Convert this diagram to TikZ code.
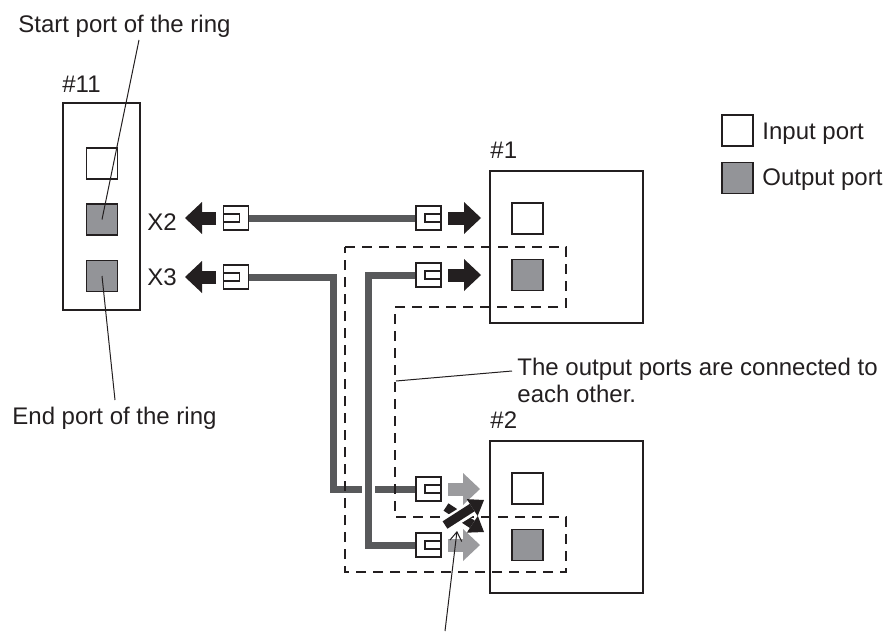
\documentclass[tikz,border=0pt]{standalone}
\usepackage{fontspec}
\setmainfont{Liberation Sans}
\usetikzlibrary{arrows.meta,backgrounds}
\definecolor{inkc}{RGB}{35,31,32}
\definecolor{portgray}{RGB}{147,148,152}
\definecolor{arrowgray}{RGB}{155,155,158}
\definecolor{cablegray}{RGB}{88,89,91}
\begin{document}
\begin{tikzpicture}[x=0.5pt,y=-0.5pt,
  every node/.style={font=\fontsize{12}{14}\selectfont, text=inkc},
  lbl/.style={anchor=base west, inner sep=0pt},
  devbox/.style={draw=inkc, line width=0.6pt, inner sep=0pt, outer sep=0pt},
  port/.style={draw=inkc, line width=0.6pt, minimum size=15.5pt, inner sep=0pt, outer sep=0pt},
  inport/.style={port, fill=white},
  outport/.style={port, fill=portgray},
  plug/.style={draw=inkc, fill=white, line width=0.6pt, minimum width=12.5pt, minimum height=12pt, inner sep=0pt, outer sep=0pt},
  plugin/.style={draw=inkc, fill=white, line width=0.6pt, minimum width=8pt, minimum height=4pt, inner sep=0pt, outer sep=0pt},
  cable/.style={draw=cablegray, line width=3.5pt, line join=miter},
  cableedge/.style={draw=white, line width=6.5pt, line join=miter},
  bigarrow/.style={line width=6.5pt, -{Triangle[width=16pt,length=8.5pt,line width=0pt]}},
  xarrow/.style={draw=inkc, line width=4.4pt, -{Triangle[width=10pt,length=7pt,line width=0pt]}},
  ptr/.style={draw=inkc, line width=0.5pt},
  dashline/.style={draw=inkc, line width=0.65pt, dash pattern=on 5pt off 3.5pt}]
\useasboundingbox (0,0) rectangle (886,631);

% device boxes
\node[devbox, minimum width=38.5pt, minimum height=103.5pt] (d11) at (101.5,206.5) {};
\node[devbox, minimum width=76.5pt, minimum height=76pt] (d1) at (566.5,247) {};
\node[devbox, minimum width=76.5pt, minimum height=76pt] (d2) at (566.5,517) {};

% ports
\node[inport] (i11) at (102,163.5) {};
\node[outport] (o11a) at (102,219.5) {};
\node[outport] (o11b) at (102,276) {};
\node[inport] (i1) at (527.5,218.5) {};
\node[outport] (o1) at (527.5,275) {};
\node[inport] (i2) at (527.5,488.5) {};
\node[outport] (o2) at (527.5,545) {};

% legend
\node[inport] (li) at (737.5,130.5) {};
\node[outport] (lo) at (737.5,178) {};
\node[lbl] (lit) at (762,139) {Input port};
\node[lbl] (lot) at (762,185) {Output port};

% labels
\node[lbl] (t11) at (62,92) {\#11};
\node[lbl] (t1) at (490,158) {\#1};
\node[lbl] (t2) at (490,428) {\#2};
\node[lbl] (tx2) at (147,230) {X2};
\node[lbl] (tx3) at (147,285) {X3};
\node[lbl] (tstart) at (18,33) {Start port of the ring};
\node[lbl] (tend) at (12,424) {End port of the ring};
\node[lbl] (tout1) at (517,375) {The output ports are connected to};
\node[lbl] (tout2) at (517,402) {each other.};

% plugs
\node[plug] (pl2) at (236,218) {};
\node[plugin, anchor=west] (pl2i) at (pl2.west) {};
\node[plug] (pl3) at (236,277) {};
\node[plugin, anchor=west] (pl3i) at (pl3.west) {};
\node[plug] (pr1a) at (428.5,218) {};
\node[plugin, anchor=east] (pr1ai) at (pr1a.east) {};
\node[plug] (pr1b) at (428.5,275) {};
\node[plugin, anchor=east] (pr1bi) at (pr1b.east) {};
\node[plug] (pr2a) at (428.5,489) {};
\node[plugin, anchor=east] (pr2ai) at (pr2a.east) {};
\node[plug] (pr2b) at (428.5,545) {};
\node[plugin, anchor=east] (pr2bi) at (pr2b.east) {};

% cables
\coordinate (k2) at (333,489);
\coordinate (k3) at (368,545);
\begin{scope}[on background layer]
\draw[cable] (pl2.east) -- (pr1a.west);
\draw[cable] (pl3.east) -| (k2) -- (pr2a.west);
\draw[cableedge] (pr1b.west) -| (k3) -- (pr2b.west);
\draw[cable] (pr1b.west) -| (k3) -- (pr2b.west);
\end{scope}

% dashed grouping
\draw[dashline] (345,247) -- (566,247) -- (566,307) -- (395,307) -- (395,517)
  -- (566,517) -- (566,572) -- (345,572) -- cycle;

% direction arrows
\coordinate (a2s) at (216,218); \coordinate (a2e) at (185,218);
\coordinate (a3s) at (216,277); \coordinate (a3e) at (185,277);
\coordinate (b1s) at (448,218); \coordinate (b1e) at (481,218);
\coordinate (b2s) at (448,275); \coordinate (b2e) at (481,275);
\coordinate (g1s) at (448,489); \coordinate (g1e) at (480,489);
\coordinate (g2s) at (448,545); \coordinate (g2e) at (480,545);
\draw[bigarrow, draw=inkc, fill=inkc] (a2s) -- (a2e);
\draw[bigarrow, draw=inkc, fill=inkc] (a3s) -- (a3e);
\draw[bigarrow, draw=inkc, fill=inkc] (b1s) -- (b1e);
\draw[bigarrow, draw=inkc, fill=inkc] (b2s) -- (b2e);
\draw[bigarrow, draw=arrowgray, fill=arrowgray] (g1s) -- (g1e);
\draw[bigarrow, draw=arrowgray, fill=arrowgray] (g2s) -- (g2e);

% crossed arrows
\coordinate (xbs) at (446,507); \coordinate (xbe) at (484,532);
\coordinate (xas) at (445,525); \coordinate (xam) at (474,507); \coordinate (xae) at (484,500);
\draw[xarrow, fill=inkc] (xbs) -- (xbe);
\draw[draw=white, line width=7pt] (xas) -- (xam);
\draw[xarrow, fill=inkc] (xas) -- (xae);

% pointer lines
\coordinate (ps) at (139,40);
\coordinate (pe) at (115,400);
\coordinate (po1) at (396,381); \coordinate (po2) at (512,371);
\coordinate (pb0) at (445,631); \coordinate (pb1) at (457,531);
\draw[ptr] (ps) -- (o11a.center);
\draw[ptr] (o11b.center) -- (pe);
\draw[ptr] (po1) -- (po2);
\draw[ptr, -{Straight Barb[length=4.5pt,width=6pt]}] (pb0) -- (pb1);
\end{tikzpicture}
\end{document}
